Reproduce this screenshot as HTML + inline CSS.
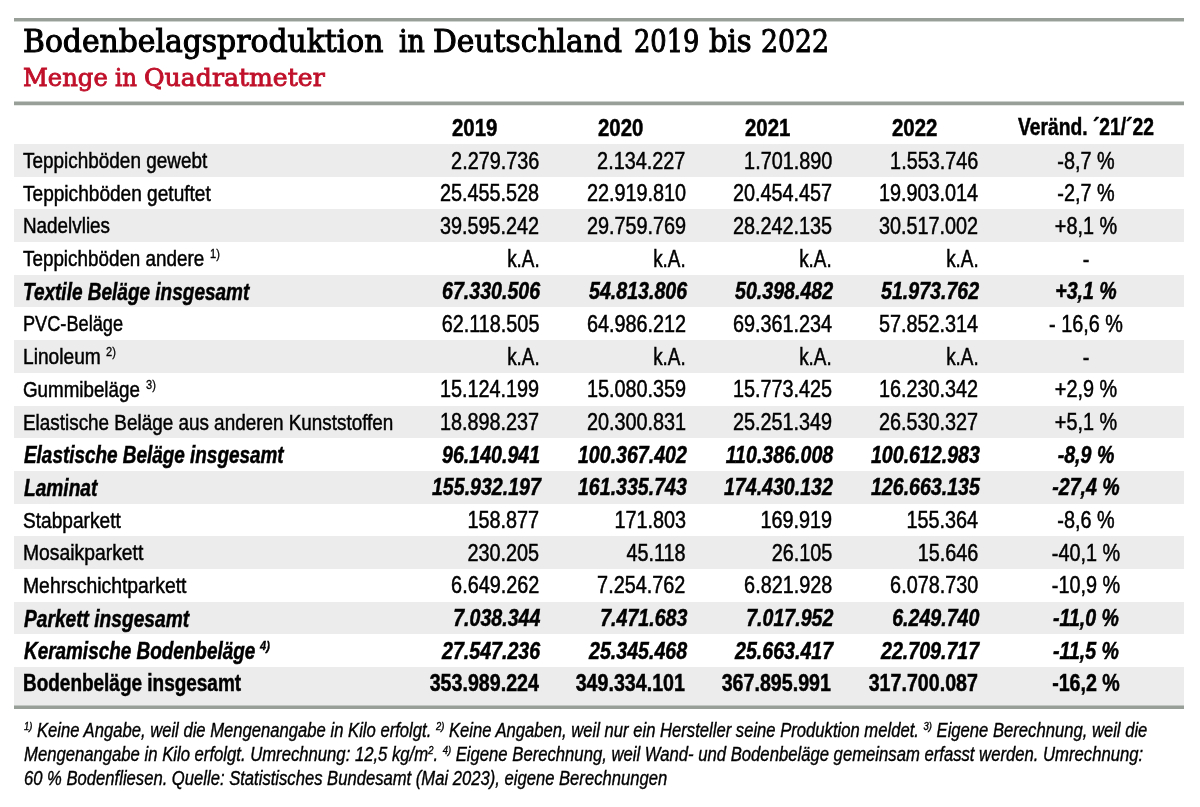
<!DOCTYPE html>
<html lang="de"><head><meta charset="utf-8"><title>Bodenbelagsproduktion in Deutschland 2019 bis 2022</title>
<style>
html,body{margin:0;padding:0;background:#fff;}
body{width:1200px;height:807px;position:relative;overflow:hidden;font-family:"Liberation Sans",sans-serif;color:#000;}
.rule{position:absolute;left:14.4px;width:1170px;background:#9aa39b;}
.title{position:absolute;left:24px;top:21px;font:32px/40px "DejaVu Serif Condensed","DejaVu Serif",serif;white-space:nowrap;-webkit-text-stroke:1.0px #000;}
.title span,.sub span{position:absolute;top:0;transform-origin:0 0;}
.sub{position:absolute;left:24px;top:60.5px;font:25px/34px "DejaVu Serif Condensed","DejaVu Serif",serif;color:#c0102a;white-space:nowrap;-webkit-text-stroke:0.8px #c0102a;}
.row{position:absolute;left:14.4px;width:1170px;height:32.69px;}
.row.g{background:#ececec;}
.c{position:absolute;top:0.5px;white-space:nowrap;font-size:22.6px;line-height:32.7px;-webkit-text-stroke:0.5px #000;}
.last .c{top:-0.5px;}
.l{transform-origin:0 50%;margin-top:0.5px;}
.n{transform-origin:100% 50%;text-align:right;}
.n,.m{font-size:23px;}
.m{transform-origin:50% 50%;text-align:center;width:300px;}
.bi{font-weight:bold;font-style:italic;font-size:23px;-webkit-text-stroke:0.5px #000;}
.b{font-weight:bold;font-size:23px;-webkit-text-stroke:0.5px #000;}
.s{position:absolute;top:-4px;-webkit-text-stroke:0.35px #000;font-size:13px;line-height:32.7px;transform-origin:0 50%;transform:scaleX(0.85);white-space:nowrap;}
.fn{position:absolute;left:24px;font-size:19.4px;line-height:23.75px;font-style:italic;white-space:nowrap;transform-origin:0 0;-webkit-text-stroke:0.38px #000;}
.fn sup{font-size:11px;vertical-align:0;position:relative;top:-7px;line-height:0;}
</style></head><body>
<div class="rule" style="top:18px;height:4px;background:linear-gradient(#979f98 0,#979f98 3px,#cfd3cf 3px,#cfd3cf 4px)"></div>
<div class="title"><span style="left:-0.90px;transform:scaleX(1.0354)">Bodenbelagsproduktion</span> <span style="left:374.50px;transform:scaleX(0.9327)">in</span> <span style="left:409.30px;transform:scaleX(1.0324)">Deutschland</span> <span style="left:609.60px;transform:scaleX(0.8931)">2019</span> <span style="left:685.00px;transform:scaleX(1.005)">bis</span> <span style="left:736.60px;transform:scaleX(0.9286)">2022</span></div>
<div class="sub"><span style="left:-1.00px;transform:scaleX(1.0793)">Menge</span> <span style="left:91.20px;transform:scaleX(1.0137)">in</span> <span style="left:120.30px;transform:scaleX(1.118)">Quadratmeter</span></div>
<div class="rule" style="top:101px;height:5px;background:linear-gradient(#cbcfcb 0,#cbcfcb 1px,#979f98 1px,#979f98 4px,#e4e7e4 4px,#e4e7e4 5px)"></div>
<div class="row" style="top:110.81px"><span class="c b l" style="font-size:23.3px;left:437.30px;transform:scaleX(0.875)">2019</span><span class="c b l" style="font-size:23.3px;left:584.05px;transform:scaleX(0.875)">2020</span><span class="c b l" style="font-size:23.3px;left:731.05px;transform:scaleX(0.875)">2021</span><span class="c b l" style="font-size:23.3px;left:877.30px;transform:scaleX(0.875)">2022</span><span class="c b m" style="font-size:23.3px;left:921.60px;transform:scaleX(0.826)">Veränd. ´21/´22</span></div>
<div class="row g" style="top:144.00px;height:32.69px"><span class="c l" style="left:8.60px;transform:scaleX(0.8382)">Teppichböden gewebt</span><span class="c n" style="right:645.00px;transform:scaleX(0.862)">2.279.736</span><span class="c n" style="right:498.70px;transform:scaleX(0.862)">2.134.227</span><span class="c n" style="right:352.30px;transform:scaleX(0.862)">1.701.890</span><span class="c n" style="right:206.00px;transform:scaleX(0.862)">1.553.746</span><span class="c m" style="left:921.60px;transform:scaleX(0.862)">-8,7 %</span></div>
<div class="row" style="top:176.69px;height:32.69px"><span class="c l" style="left:8.60px;transform:scaleX(0.8445)">Teppichböden getuftet</span><span class="c n" style="right:645.00px;transform:scaleX(0.862)">25.455.528</span><span class="c n" style="right:498.70px;transform:scaleX(0.862)">22.919.810</span><span class="c n" style="right:352.30px;transform:scaleX(0.862)">20.454.457</span><span class="c n" style="right:206.00px;transform:scaleX(0.862)">19.903.014</span><span class="c m" style="left:921.60px;transform:scaleX(0.862)">-2,7 %</span></div>
<div class="row g" style="top:209.38px;height:32.69px"><span class="c l" style="left:8.60px;transform:scaleX(0.8348)">Nadelvlies</span><span class="c n" style="right:645.00px;transform:scaleX(0.862)">39.595.242</span><span class="c n" style="right:498.70px;transform:scaleX(0.862)">29.759.769</span><span class="c n" style="right:352.30px;transform:scaleX(0.862)">28.242.135</span><span class="c n" style="right:206.00px;transform:scaleX(0.862)">30.517.002</span><span class="c m" style="left:921.60px;transform:scaleX(0.862)">+8,1 %</span></div>
<div class="row" style="top:242.07px;height:32.69px"><span class="c l" style="left:8.60px;transform:scaleX(0.8340)">Teppichböden andere</span><span class="s" style="left:195.50px">1)</span><span class="c n" style="right:645.00px;transform:scaleX(0.82)">k.A.</span><span class="c n" style="right:498.70px;transform:scaleX(0.82)">k.A.</span><span class="c n" style="right:352.30px;transform:scaleX(0.82)">k.A.</span><span class="c n" style="right:206.00px;transform:scaleX(0.82)">k.A.</span><span class="c m" style="left:921.60px;transform:scaleX(0.862)">-</span></div>
<div class="row g" style="top:274.76px;height:32.69px"><span class="c l bi" style="left:8.60px;transform:scaleX(0.8260)">Textile Beläge insgesamt</span><span class="c n bi" style="right:643.80px;transform:scaleX(0.852)">67.330.506</span><span class="c n bi" style="right:497.50px;transform:scaleX(0.852)">54.813.806</span><span class="c n bi" style="right:351.10px;transform:scaleX(0.852)">50.398.482</span><span class="c n bi" style="right:204.80px;transform:scaleX(0.852)">51.973.762</span><span class="c m bi" style="left:921.60px;transform:scaleX(0.852)">+3,1 %</span></div>
<div class="row" style="top:307.45px;height:32.69px"><span class="c l" style="left:8.60px;transform:scaleX(0.8043)">PVC-Beläge</span><span class="c n" style="right:645.00px;transform:scaleX(0.862)">62.118.505</span><span class="c n" style="right:498.70px;transform:scaleX(0.862)">64.986.212</span><span class="c n" style="right:352.30px;transform:scaleX(0.862)">69.361.234</span><span class="c n" style="right:206.00px;transform:scaleX(0.862)">57.852.314</span><span class="c m" style="left:921.60px;transform:scaleX(0.862)">- 16,6 %</span></div>
<div class="row g" style="top:340.14px;height:32.69px"><span class="c l" style="left:8.60px;transform:scaleX(0.8479)">Linoleum</span><span class="s" style="left:91.25px">2)</span><span class="c n" style="right:645.00px;transform:scaleX(0.82)">k.A.</span><span class="c n" style="right:498.70px;transform:scaleX(0.82)">k.A.</span><span class="c n" style="right:352.30px;transform:scaleX(0.82)">k.A.</span><span class="c n" style="right:206.00px;transform:scaleX(0.82)">k.A.</span><span class="c m" style="left:921.60px;transform:scaleX(0.862)">-</span></div>
<div class="row" style="top:372.83px;height:32.69px"><span class="c l" style="left:8.60px;transform:scaleX(0.8309)">Gummibeläge</span><span class="s" style="left:131.25px">3)</span><span class="c n" style="right:645.00px;transform:scaleX(0.862)">15.124.199</span><span class="c n" style="right:498.70px;transform:scaleX(0.862)">15.080.359</span><span class="c n" style="right:352.30px;transform:scaleX(0.862)">15.773.425</span><span class="c n" style="right:206.00px;transform:scaleX(0.862)">16.230.342</span><span class="c m" style="left:921.60px;transform:scaleX(0.862)">+2,9 %</span></div>
<div class="row g" style="top:405.52px;height:32.69px"><span class="c l" style="left:8.60px;transform:scaleX(0.8361)">Elastische Beläge aus anderen Kunststoffen</span><span class="c n" style="right:645.00px;transform:scaleX(0.862)">18.898.237</span><span class="c n" style="right:498.70px;transform:scaleX(0.862)">20.300.831</span><span class="c n" style="right:352.30px;transform:scaleX(0.862)">25.251.349</span><span class="c n" style="right:206.00px;transform:scaleX(0.862)">26.530.327</span><span class="c m" style="left:921.60px;transform:scaleX(0.862)">+5,1 %</span></div>
<div class="row" style="top:438.21px;height:32.69px"><span class="c l bi" style="left:9.85px;transform:scaleX(0.8221)">Elastische Beläge insgesamt</span><span class="c n bi" style="right:643.80px;transform:scaleX(0.852)">96.140.941</span><span class="c n bi" style="right:497.50px;transform:scaleX(0.852)">100.367.402</span><span class="c n bi" style="right:351.10px;transform:scaleX(0.852)">110.386.008</span><span class="c n bi" style="right:204.80px;transform:scaleX(0.852)">100.612.983</span><span class="c m bi" style="left:921.60px;transform:scaleX(0.852)">-8,9 %</span></div>
<div class="row g" style="top:470.90px;height:32.69px"><span class="c l bi" style="left:9.85px;transform:scaleX(0.8322)">Laminat</span><span class="c n bi" style="right:643.80px;transform:scaleX(0.852)">155.932.197</span><span class="c n bi" style="right:497.50px;transform:scaleX(0.852)">161.335.743</span><span class="c n bi" style="right:351.10px;transform:scaleX(0.852)">174.430.132</span><span class="c n bi" style="right:204.80px;transform:scaleX(0.852)">126.663.135</span><span class="c m bi" style="left:921.60px;transform:scaleX(0.852)">-27,4 %</span></div>
<div class="row" style="top:503.59px;height:32.69px"><span class="c l" style="left:8.60px;transform:scaleX(0.8460)">Stabparkett</span><span class="c n" style="right:645.00px;transform:scaleX(0.862)">158.877</span><span class="c n" style="right:498.70px;transform:scaleX(0.862)">171.803</span><span class="c n" style="right:352.30px;transform:scaleX(0.862)">169.919</span><span class="c n" style="right:206.00px;transform:scaleX(0.862)">155.364</span><span class="c m" style="left:921.60px;transform:scaleX(0.862)">-8,6 %</span></div>
<div class="row g" style="top:536.28px;height:32.69px"><span class="c l" style="left:8.60px;transform:scaleX(0.8553)">Mosaikparkett</span><span class="c n" style="right:645.00px;transform:scaleX(0.862)">230.205</span><span class="c n" style="right:498.70px;transform:scaleX(0.862)">45.118</span><span class="c n" style="right:352.30px;transform:scaleX(0.862)">26.105</span><span class="c n" style="right:206.00px;transform:scaleX(0.862)">15.646</span><span class="c m" style="left:921.60px;transform:scaleX(0.862)">-40,1 %</span></div>
<div class="row" style="top:568.97px;height:32.69px"><span class="c l" style="left:8.60px;transform:scaleX(0.8566)">Mehrschichtparkett</span><span class="c n" style="right:645.00px;transform:scaleX(0.862)">6.649.262</span><span class="c n" style="right:498.70px;transform:scaleX(0.862)">7.254.762</span><span class="c n" style="right:352.30px;transform:scaleX(0.862)">6.821.928</span><span class="c n" style="right:206.00px;transform:scaleX(0.862)">6.078.730</span><span class="c m" style="left:921.60px;transform:scaleX(0.862)">-10,9 %</span></div>
<div class="row g" style="top:601.66px;height:32.69px"><span class="c l bi" style="left:9.85px;transform:scaleX(0.8330)">Parkett insgesamt</span><span class="c n bi" style="right:643.80px;transform:scaleX(0.852)">7.038.344</span><span class="c n bi" style="right:497.50px;transform:scaleX(0.852)">7.471.683</span><span class="c n bi" style="right:351.10px;transform:scaleX(0.852)">7.017.952</span><span class="c n bi" style="right:204.80px;transform:scaleX(0.852)">6.249.740</span><span class="c m bi" style="left:921.60px;transform:scaleX(0.852)">-11,0 %</span></div>
<div class="row" style="top:634.35px;height:32.69px"><span class="c l bi" style="left:9.85px;transform:scaleX(0.8223)">Keramische Bodenbeläge</span><span class="s bi" style="left:245.75px">4)</span><span class="c n bi" style="right:643.80px;transform:scaleX(0.852)">27.547.236</span><span class="c n bi" style="right:497.50px;transform:scaleX(0.852)">25.345.468</span><span class="c n bi" style="right:351.10px;transform:scaleX(0.852)">25.663.417</span><span class="c n bi" style="right:204.80px;transform:scaleX(0.852)">22.709.717</span><span class="c m bi" style="left:921.60px;transform:scaleX(0.852)">-11,5 %</span></div>
<div class="row g last" style="top:667.04px;height:38.60px"><span class="c l b" style="left:8.60px;transform:scaleX(0.8243)">Bodenbeläge insgesamt</span><span class="c n b" style="right:645.70px;transform:scaleX(0.854)">353.989.224</span><span class="c n b" style="right:499.40px;transform:scaleX(0.854)">349.334.101</span><span class="c n b" style="right:353.00px;transform:scaleX(0.854)">367.895.991</span><span class="c n b" style="right:206.70px;transform:scaleX(0.854)">317.700.087</span><span class="c m b" style="left:921.60px;transform:scaleX(0.854)">-16,2 %</span></div>
<div class="rule" style="top:705px;height:4px;background:linear-gradient(#c2c6c2 0,#c2c6c2 1px,#979f98 1px,#979f98 4px)"></div>
<div class="fn" style="top:719.30px;transform:scaleX(0.8578)"><sup>1)</sup> Keine Angabe, weil die Mengenangabe in Kilo erfolgt. <sup>2)</sup> Keine Angaben, weil nur ein Hersteller seine Produktion meldet. <sup>3)</sup> Eigene Berechnung, weil die</div>
<div class="fn" style="top:743.20px;transform:scaleX(0.8599)">Mengenangabe in Kilo erfolgt. Umrechnung: 12,5 kg/m<sup>2</sup>. <sup>4)</sup> Eigene Berechnung, weil Wand- und Bodenbeläge gemeinsam erfasst werden. Umrechnung:</div>
<div class="fn" style="top:767.10px;transform:scaleX(0.8573)">60 % Bodenfliesen. Quelle: Statistisches Bundesamt (Mai 2023), eigene Berechnungen</div>
</body></html>
